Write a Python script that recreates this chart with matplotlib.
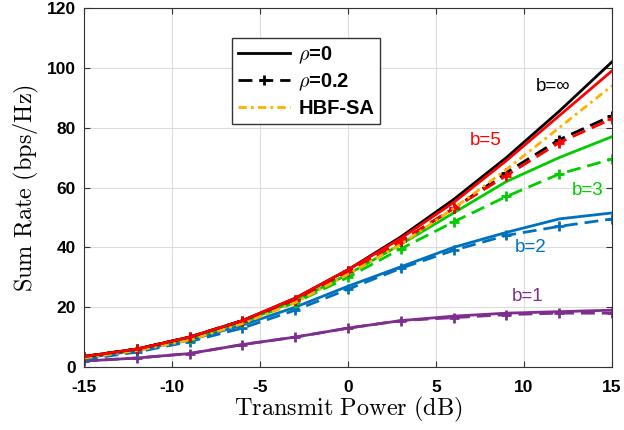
import matplotlib
matplotlib.use("Agg")
import matplotlib.pyplot as plt
import numpy as np

plt.rcParams['mathtext.fontset'] = 'cm'
plt.rcParams['font.family'] = ['Liberation Sans', 'DejaVu Sans']
plt.rcParams['axes.unicode_minus'] = False

# transmit power (dB)
power = [-15, -12, -9, -6, -3, 0, 3, 6, 9, 12, 15]

# rho = 0 (solid)
inf_r0 = [3.5, 6, 10, 15.5, 23, 32.5, 43.5, 56, 70, 85.5, 102]
b5_r0 = [3.5, 6, 10, 15.5, 23, 32.5, 43, 55, 69, 84, 99]
b3_r0 = [3.5, 6, 10, 15, 22, 31, 41, 51.5, 62, 70, 77]
b2_r0 = [3, 5.5, 9, 14, 20, 27, 33.5, 40, 45, 49.5, 51.5]
b1_r0 = [2, 3, 4.5, 7.5, 10, 13, 15.5, 17, 18, 18.5, 19]

# rho = 0.2 (dashed, '+')
inf_r2 = [3.5, 6, 10, 15.5, 22.5, 32, 42, 53, 65, 76, 84]
b5_r2 = [3.5, 6, 10, 15.5, 22.5, 32, 42, 53, 64, 75, 83]
b3_r2 = [3.5, 6, 9.5, 15, 21.5, 30, 39.5, 48.5, 57, 64.5, 69.5]
b2_r2 = [2.5, 5, 8.5, 13, 19, 26, 33, 39, 44, 47, 49.5]
b1_r2 = [2, 3, 4.5, 7.5, 10, 13, 15.5, 16.5, 17.5, 18, 18]

hbf_sa = [3, 5.5, 9, 14.5, 21.5, 31, 41, 53, 66, 80, 94]

blue = '#0072BD'
purple = '#7E2F8E'
red = '#FF0000'
green = '#00CC00'
orange = '#FFB000'

fig = plt.figure(figsize=(6.24, 4.30), dpi=100)
ax = fig.add_axes([0.1346, 0.1465, 0.8462, 0.8349])

lw = 2.0
dash = (5, 2.5)
dashdot = (3, 1.5, 1, 1.5)
mk = dict(marker='+', ms=7, mew=2)

ax.plot(power, b1_r0, '-', color=purple, lw=lw)
ax.plot(power, b1_r2, color=purple, lw=lw, dashes=dash, **mk)
ax.plot(power, b2_r0, '-', color=blue, lw=lw)
ax.plot(power, b2_r2, color=blue, lw=lw, dashes=dash, **mk)
ax.plot(power, b3_r0, '-', color=green, lw=lw)
ax.plot(power, b3_r2, color=green, lw=lw, dashes=dash, **mk)
ax.plot(power, inf_r2, color='black', lw=lw, dashes=dash, **mk)
ax.plot(power, b5_r2, color=red, lw=lw, dashes=dash, **mk)
ax.plot(power, hbf_sa, color=orange, lw=lw, dashes=dashdot)
ax.plot(power, inf_r0, '-', color='black', lw=lw)
ax.plot(power, b5_r0, '-', color=red, lw=lw)

# legend handles
h1, = ax.plot([], [], '-', color='black', lw=lw)
h2, = ax.plot([], [], color='black', lw=lw, dashes=dash, **mk)
h3, = ax.plot([], [], color=orange, lw=lw, dashes=dashdot)
leg = ax.legend([h1, h2, h3], [r'$\rho$=0', r'$\rho$=0.2', 'HBF-SA'],
                loc='upper left', bbox_to_anchor=(0.28, 0.916),
                prop={'weight': 'bold', 'size': 14.5}, handlelength=2.6,
                fancybox=False, framealpha=1, edgecolor='#333333',
                borderpad=0.3, labelspacing=0.3, handletextpad=0.4,
                borderaxespad=0)
leg.get_frame().set_linewidth(1.0)

fs = 13.5
ax.text(11.65, 93.6, 'b=\u221e', color='black', fontsize=fs, ha='center', va='center')
ax.text(7.8, 75.6, 'b=5', color=red, fontsize=fs, ha='center', va='center')
ax.text(13.6, 58.9, 'b=3', color=green, fontsize=fs, ha='center', va='center')
ax.text(10.4, 39.8, 'b=2', color=blue, fontsize=fs, ha='center', va='center')
ax.text(10.2, 23.4, 'b=1', color=purple, fontsize=fs, ha='center', va='center')

ax.set_xlim(-15, 15)
ax.set_ylim(0, 120)
ax.set_xticks(np.arange(-15, 16, 5))
ax.set_yticks(np.arange(0, 121, 20))
ax.grid(True, color='#DDDDDD', lw=0.8)
ax.set_axisbelow(True)
ax.tick_params(direction='in', top=True, right=True, labelsize=12.5, length=4, color='#333333')
ax.tick_params(axis='x', pad=9)
ax.tick_params(axis='y', pad=6)
for lab in ax.get_xticklabels() + ax.get_yticklabels():
    lab.set_fontweight('bold')
for s in ax.spines.values():
    s.set_color('#333333')

ax.set_xlabel(r'$\mathrm{Transmit\ Power\ (dB)}$', fontsize=17.5, labelpad=0)
ax.set_ylabel(r'$\mathrm{Sum\ Rate\ (bps/Hz)}$', fontsize=17.5, labelpad=4)

fig.savefig('out.png', dpi=100)
